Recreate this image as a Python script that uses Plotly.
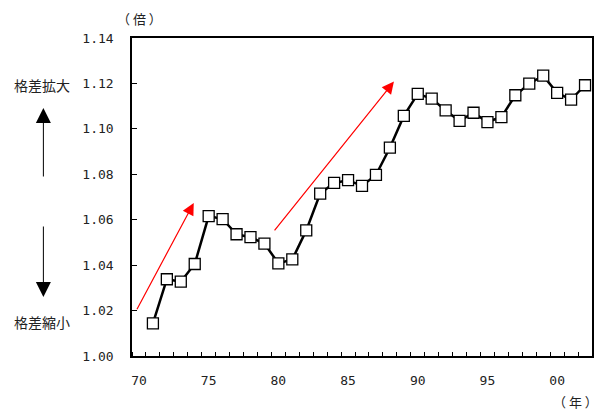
import plotly.graph_objects as go

years = list(range(71, 103))
ratio = [1.0144, 1.0338, 1.0327, 1.0405, 1.0616, 1.0603, 1.0536, 1.0523, 1.0495, 1.0408,
         1.0425, 1.0553, 1.0715, 1.0762, 1.0774, 1.0749, 1.0797, 1.0917, 1.1057, 1.1154,
         1.1133, 1.1081, 1.1035, 1.1071, 1.1030, 1.1052, 1.1148, 1.1199, 1.1234, 1.1158,
         1.1129, 1.1192]
x_tickvals = [70, 75, 80, 85, 90, 95, 100]
x_ticktext = ["70", "75", "80", "85", "90", "95", "00"]
y_tickvals = [1.00, 1.02, 1.04, 1.06, 1.08, 1.10, 1.12, 1.14]
y_ticktext = ["1.00", "1.02", "1.04", "1.06", "1.08", "1.10", "1.12", "1.14"]
# red trend arrows: (x_start, y_start, x_end, y_end)
arrow1 = (69.8, 1.0199, 73.93, 1.0674)
arrow2 = (79.64, 1.0546, 88.29, 1.1208)

NUMFONT = "DejaVu Sans Mono, monospace"
JP = "Noto Sans CJK JP"
OFF = 8  # page body margin
W, H = 603 - OFF, 410 - OFF
ML, MR, MT, MB = 124, 9, 30, 54
pw, ph = W - ML - MR, H - MT - MB
PL, PB = OFF + ML, OFF + H - MB  # plot left / bottom in page pixels

def px(x):
    return (x - PL) / pw

def py(y):
    return (PB - y) / ph

fig = go.Figure()
fig.add_trace(go.Scatter(
    x=years, y=ratio, mode="lines+markers",
    line=dict(color="black", width=2.5),
    marker=dict(symbol="square", size=11, color="white", line=dict(color="black", width=1.3)),
    showlegend=False, cliponaxis=False,
))

for (x0, y0, x1, y1) in (arrow1, arrow2):
    fig.add_annotation(x=x1, y=y1, ax=x0, ay=y0, xref="x", yref="y", axref="x", ayref="y",
                       showarrow=True, arrowhead=2, arrowsize=2, arrowwidth=1.2,
                       arrowcolor="red", text="")

fig.update_layout(
    width=W, height=H,
    margin=dict(l=ML, r=MR, t=MT, b=MB),
    paper_bgcolor="white", plot_bgcolor="white",
    font=dict(family=NUMFONT, size=13, color="#222"),
    xaxis=dict(range=[69.5, 102.5], tickvals=x_tickvals, ticktext=x_ticktext,
               ticks="", showgrid=False, zeroline=False,
               showline=True, linecolor="black", linewidth=1.5, mirror=True,
               ticklabelstandoff=12,
               minor=dict(ticks="inside", tick0=69.5, dtick=1, ticklen=4,
                          tickcolor="black", showgrid=False)),
    yaxis=dict(range=[1.0, 1.14], tickvals=y_tickvals, ticktext=y_ticktext,
               ticks="inside", ticklen=5, tickcolor="black", showgrid=False, zeroline=False,
               showline=True, linecolor="black", linewidth=1.5, mirror=True,
               ticklabelstandoff=14),
)

for (tx, ty, txt, sz) in ((42, 85, "格差拡大", 14), (42, 322, "格差縮小", 14),
                          (140, 18, "（ 倍 ）", 13), (577, 401, "（ 年 ）", 13)):
    fig.add_annotation(x=px(tx), y=py(ty), xref="paper", yref="paper", text=txt,
                       showarrow=False, xanchor="center", yanchor="middle",
                       font=dict(size=sz, family=JP, color="#222"))

# vertical black arrows on the left
for (ystart, yend) in ((178, 108), (225, 297)):
    fig.add_annotation(xref="paper", yref="paper", x=px(43), y=py(yend),
                       axref="pixel", ayref="pixel", ax=0, ay=ystart - yend,
                       showarrow=True, text="",
                       arrowhead=2, arrowsize=3, arrowwidth=1, arrowcolor="black")

fig.write_html("out.html")
